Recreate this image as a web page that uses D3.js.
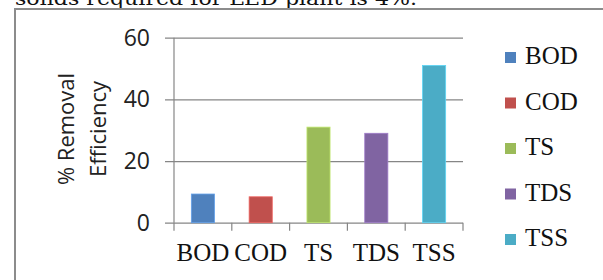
<!DOCTYPE html>
<html>
<head>
<meta charset="utf-8">
<script src="https://cdn.jsdelivr.net/npm/d3@7"></script>
<style>
  html, body { margin: 0; padding: 0; background: #fff; }
  svg { display: block; }
  .serif { font-family: "Liberation Serif", "Times New Roman", Times, serif; }
  .sans { font-family: "Open Sans", "Liberation Sans", Arial, sans-serif; }
</style>
</head>
<body>
<svg id="chart" width="603" height="280"></svg>
<script>
const categories = ["BOD", "COD", "TS", "TDS", "TSS"];
const values = [9.3, 8.4, 31, 29, 51];
const colors = ["#4F81BD", "#C0504D", "#9BBB59", "#8064A2", "#4BACC6"];
const yTicks = [0, 20, 40, 60];
const yTitle = ["% Removal", "Efficiency"];
const captionText = "solids required for LED plant is 4%.";

const svg = d3.select("#chart");
const gridColor = "#868686";

// caption text cut off at top (as in the source page)
svg.append("text")
  .attr("x", 15).attr("y", 5)
  .style("font-family", "'DejaVu Serif', serif")
  .attr("font-size", 19)
  .attr("textLength", 402)
  .attr("lengthAdjust", "spacingAndGlyphs")
  .attr("fill", "#111")
  .text(captionText);

// frame
svg.append("path")
  .attr("d", "M15,290 L15,9 L610,9")
  .attr("fill", "none")
  .attr("stroke", "#8c8c8c")
  .attr("stroke-width", 2);

const x = d3.scaleBand().domain(categories).range([174, 463])
  .paddingInner(0.6).paddingOuter(0.3);
const y = d3.scaleLinear().domain([0, 60]).range([222.7, 37.7]);

// gridlines + y ticks
const yAxis = d3.axisLeft(y).tickValues(yTicks).tickSize(-(463 - 165)).tickPadding(15).tickFormat(d3.format("d"));
const gy = svg.append("g").attr("transform", "translate(165,0)").call(yAxis);
gy.attr("font-family", null).attr("font-size", null);
gy.select(".domain").remove();
gy.selectAll(".tick line").attr("stroke", gridColor).attr("stroke-width", 1.2);
gy.selectAll(".tick text")
  .attr("x", -15)
  .attr("class", "sans")
  .attr("font-size", 23)
  .attr("fill", "#222");

// y axis line
svg.append("line")
  .attr("x1", 174).attr("x2", 174)
  .attr("y1", y(60)).attr("y2", y(0))
  .attr("stroke", gridColor).attr("stroke-width", 1.2);

// x ticks at band boundaries
const step = x.step();
const boundaries = categories.map(c => x(c) - step * 0.3).concat([x(categories[categories.length - 1]) + x.bandwidth() + step * 0.3]);
svg.append("g").selectAll("line").data(boundaries).join("line")
  .attr("x1", d => d).attr("x2", d => d)
  .attr("y1", y(0)).attr("y2", y(0) + 8)
  .attr("stroke", gridColor).attr("stroke-width", 1.2);

// bars
svg.append("g").selectAll("rect").data(categories).join("rect")
  .attr("x", d => x(d))
  .attr("width", x.bandwidth())
  .attr("y", (d, i) => y(values[i]))
  .attr("height", (d, i) => y(0) - y(values[i]))
  .attr("fill", (d, i) => colors[i])
  .attr("stroke", (d, i) => d3.color(colors[i]).brighter(0.6))
  .attr("stroke-width", 0.8);

// x labels
svg.append("g").selectAll("text").data(categories).join("text")
  .attr("class", "serif")
  .attr("x", d => x(d) + x.bandwidth() / 2)
  .attr("y", 261)
  .attr("text-anchor", "middle")
  .attr("font-size", 25)
  .attr("fill", "#111")
  .text(d => d);

// y title
const titleG = svg.append("g").attr("transform", "translate(0,129) rotate(-90)");
titleG.selectAll("text").data(yTitle).join("text")
  .attr("class", "sans")
  .attr("x", 0)
  .attr("y", (d, i) => 74 + i * 31.5)
  .attr("text-anchor", "middle")
  .attr("font-size", 22)
  .attr("fill", "#222")
  .text(d => d);

// legend
const leg = svg.append("g").selectAll("g").data(categories).join("g")
  .attr("transform", (d, i) => `translate(505,${64 + i * 45.5})`);
leg.append("rect")
  .attr("x", 0).attr("y", -12)
  .attr("width", 11).attr("height", 11)
  .attr("fill", (d, i) => colors[i]);
leg.append("text")
  .attr("class", "serif")
  .attr("x", 20).attr("y", 0)
  .attr("font-size", 25)
  .attr("fill", "#111")
  .text(d => d);
</script>
</body>
</html>
